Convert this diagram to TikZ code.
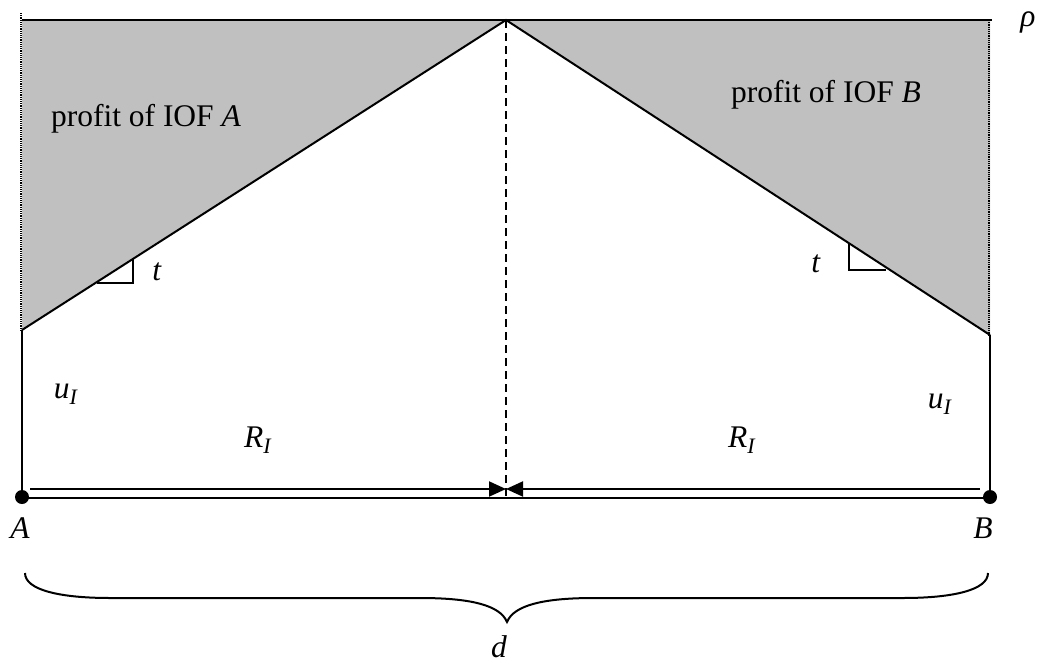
\documentclass[tikz,border=0pt]{standalone}
\usepackage{fontspec}
\setmainfont{Liberation Serif}
\usetikzlibrary{calc, positioning}
\usetikzlibrary{arrows.meta}
\definecolor{profitgray}{RGB}{192,192,192}
\newcommand{\lblfont}{\fontsize{31.5}{36}\selectfont}
\tikzset{
  lbl/.style={font=\lblfont, inner sep=0pt},
  edge/.style={line width=2pt, black},
  guide/.style={densely dotted, line width=1.2pt, black},
}
\begin{document}
\begin{tikzpicture}[x=1pt,y=-1pt]
\useasboundingbox (0,0) rectangle (1039,664);
\def\topy{20}
\def\baseA{497}
\def\upy{489}
\def\lowy{498}

\coordinate (A) at (22,\baseA);
\coordinate (B) at (990,\baseA);
\coordinate (peak) at (506,\topy);
\coordinate (kinkA) at (22,330);
\coordinate (kinkB) at (990,335);
\coordinate (mid) at (506,\lowy);

% Profit areas
\fill[profitgray] (22,\topy) -- (peak) -- (kinkA) -- cycle;
\fill[profitgray] (peak) -- (990,\topy) -- (kinkB) -- cycle;

% Dotted guides
\draw[guide] (21,13) -- (21,330);
\draw[guide] (989,\topy) -- (989,335);

% Price line and delivered prices
\draw[edge] (22,\topy) -- (992,\topy);
\draw[edge] (kinkA) -- (peak) -- (kinkB);
\draw[edge] (A) -- (kinkA);
\draw[edge] (B) -- (kinkB);

% Slope marks
\draw[edge] (97,283) -- (133,283) -- (133,259);
\draw[edge] (849,243) -- (849,270) -- (886,270);

% Market boundary
\draw[dashed, line width=1.8pt, dash pattern=on 8pt off 5pt] (peak) -- (mid);

% Distance lines
\draw[edge] (A |- 0,\lowy) -- (B |- 0,\lowy);
\draw[edge, -{Triangle[length=17pt,width=15pt]}] (30,\upy) -- (506,\upy);
\draw[edge, -{Triangle[length=17pt,width=15pt]}] (980,\upy) -- (506,\upy);
\foreach \p in {A,B}{
  \fill (\p) circle[radius=7];
}

% Brace
\draw[edge] (25,573) .. controls (25,590) and (60,598) .. (110,598)
  -- (420,598) .. controls (470,598) and (500,605) .. (507,622)
  .. controls (514,605) and (544,598) .. (594,598)
  -- (903,598) .. controls (953,598) and (988,590) .. (988,573);

% Labels
\node[lbl] (profA) at (146,119) {profit of IOF \textit{A}};
\node[lbl] (profB) at (826,95) {profit of IOF \textit{B}};
\node[lbl] (rho) at (1028,22) {\textit{ρ}};
\node[lbl] (tA) at (157,272) {\textit{t}};
\node[lbl] (tB) at (816,264) {\textit{t}};
\node[lbl] (uA) at (66,394) {\textit{u}\textsubscript{\textit{I}}};
\node[lbl] (uB) at (940,404) {\textit{u}\textsubscript{\textit{I}}};
\node[lbl] (RA) at (258,440) {\textit{R}\textsubscript{\textit{I}}};
\node[lbl] (RB) at (742,440) {\textit{R}\textsubscript{\textit{I}}};
\node[lbl] (labA) at (20,528) {\textit{A}};
\node[lbl] (labB) at (983,528) {\textit{B}};
\node[lbl] (labd) at (499,647) {\textit{d}};
\end{tikzpicture}
\end{document}
